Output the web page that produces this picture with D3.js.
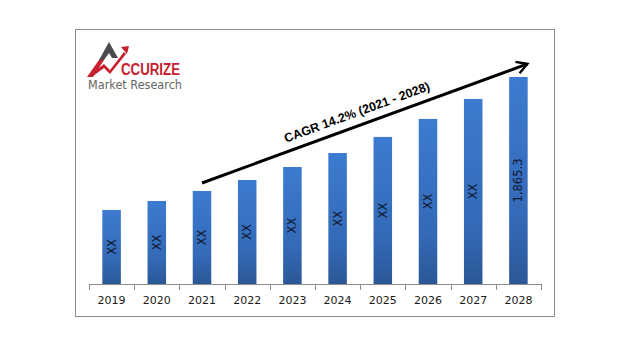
<!DOCTYPE html>
<html>
<head>
<meta charset="utf-8">
<script src="https://cdn.jsdelivr.net/npm/d3@7"></script>
<style>
  html, body { margin: 0; padding: 0; background: #fff; }
  svg { display: block; }
</style>
</head>
<body>
<script>
const years = ["2019","2020","2021","2022","2023","2024","2025","2026","2027","2028"];
const values = [667, 748, 838, 937, 1054, 1180, 1325, 1487, 1667, 1865.3];
const barLabels = ["XX","XX","XX","XX","XX","XX","XX","XX","XX","1,865.3"];
const cagrText = "CAGR 14.2% (2021 - 2028)";
const cagrFrom = "2021", cagrTo = "2028";

const W = 640, H = 357;
const svg = d3.select("body").append("svg").attr("width", W).attr("height", H);

const defs = svg.append("defs");
const grad = defs.append("linearGradient").attr("id", "barGrad")
  .attr("x1", 0).attr("y1", 0).attr("x2", 0).attr("y2", 1);
grad.append("stop").attr("offset", "0%").attr("stop-color", "#3c7bd0");
grad.append("stop").attr("offset", "70%").attr("stop-color", "#3469b6");
grad.append("stop").attr("offset", "100%").attr("stop-color", "#2b5796");

const mk = defs.append("marker").attr("id", "arrowHead")
  .attr("viewBox", "0 0 10 10").attr("refX", 8).attr("refY", 5)
  .attr("markerWidth", 5).attr("markerHeight", 5).attr("orient", "auto")
  .attr("markerUnits", "strokeWidth");
mk.append("path").attr("d", "M1,1 L8,5 L1,9").attr("fill", "none")
  .attr("stroke", "#000").attr("stroke-width", 1.6);

// frame
svg.append("rect").attr("x", 75.5).attr("y", 29.5).attr("width", 479).attr("height", 287)
  .attr("fill", "#fff").attr("stroke", "#8c8c8c").attr("stroke-width", 1);

const x = d3.scaleBand().domain(years).range([89, 541]).paddingInner(0.59).paddingOuter(0.295);
const y = d3.scaleLinear().domain([0, 2000]).range([284, 62]);

// bars
svg.append("g").selectAll("rect").data(years).join("rect")
  .attr("x", d => x(d)).attr("width", x.bandwidth())
  .attr("y", (d, i) => y(values[i])).attr("height", (d, i) => y(0) - y(values[i]))
  .attr("fill", "url(#barGrad)");

// axis
const band = d3.scaleBand().domain(years).range([89, 541]);
const axisG = svg.append("g");
axisG.append("line").attr("x1", 89).attr("x2", 541).attr("y1", 284.5).attr("y2", 284.5)
  .attr("stroke", "#8c8c8c");
const tickPos = years.map(d => band(d)).concat([band(years[years.length-1]) + band.bandwidth()]);
axisG.selectAll("line.tk").data(tickPos).join("line").attr("class", "tk")
  .attr("x1", d => Math.round(d) + 0.5).attr("x2", d => Math.round(d) + 0.5)
  .attr("y1", 284).attr("y2", 290).attr("stroke", "#8c8c8c");
axisG.selectAll("text").data(years).join("text")
  .attr("x", d => x(d) + x.bandwidth() / 2).attr("y", 304)
  .attr("text-anchor", "middle")
  .attr("font-family", "DejaVu Sans, Verdana, sans-serif").attr("font-size", 11)
  .attr("fill", "#1a1a1a").text(d => d);

// bar labels (rotated)
svg.append("g").selectAll("text").data(years).join("text")
  .attr("transform", (d, i) => {
    const cx = x(d) + x.bandwidth() / 2;
    const cy = (y(values[i]) + y(0)) / 2;
    return `translate(${cx},${cy}) rotate(-90)`;
  })
  .attr("text-anchor", "middle").attr("dy", "0.35em")
  .attr("font-family", "DejaVu Sans, Verdana, sans-serif").attr("font-size", 11.5)
  .attr("fill", "#101830").text((d, i) => barLabels[i]);

// CAGR arrow
const ax1 = x(cagrFrom) + x.bandwidth() / 2, ay1 = y(values[years.indexOf(cagrFrom)]) - 8;
const ax2 = x(cagrTo) + x.bandwidth() / 2 + 9, ay2 = y(values[years.indexOf(cagrTo)]) - 13;
svg.append("line").attr("x1", ax1).attr("y1", ay1).attr("x2", ax2).attr("y2", ay2)
  .attr("stroke", "#000").attr("stroke-width", 3).attr("marker-end", "url(#arrowHead)");
const ang = Math.atan2(ay2 - ay1, ax2 - ax1) * 180 / Math.PI;
const tx = ax1 + (ax2 - ax1) * 0.49, ty = ay1 + (ay2 - ay1) * 0.49;
svg.append("text")
  .attr("transform", `translate(${tx},${ty}) rotate(${ang}) translate(0,-9)`)
  .attr("text-anchor", "middle")
  .attr("font-family", "Liberation Sans, Arial, sans-serif").attr("font-weight", "bold")
  .attr("font-size", 12.5).attr("fill", "#000").text(cagrText);

// logo
const logo = svg.append("g");
logo.append("path").attr("d", "M109,42 L118,58 L112,58 L109,53 L104,60 L99,60 Z").attr("fill", "#4a4a4e");
logo.append("path").attr("d", "M99,60 L104,60 L93,77 L87,77 Z").attr("fill", "#c8202e");
logo.append("path").attr("d", "M92,73 L104,64 L110,70 L124,52 L126,54 L110,74 L104,68 L93,76 Z").attr("fill", "#c8202e");
logo.append("path").attr("d", "M121,47 L129,46 L127,54 Z").attr("fill", "#c8202e");
logo.append("text").attr("x", 121).attr("y", 75)
  .attr("font-family", "Liberation Sans Narrow, Liberation Sans, Arial, sans-serif")
  .attr("font-weight", "bold").attr("font-size", 16).attr("fill", "#c8202e")
  .attr("textLength", 59).attr("lengthAdjust", "spacingAndGlyphs").text("CCURIZE");
logo.append("text").attr("x", 88).attr("y", 89)
  .attr("font-family", "DejaVu Sans, Verdana, sans-serif")
  .attr("font-size", 11.5).attr("fill", "#666")
  .attr("textLength", 94).attr("lengthAdjust", "spacingAndGlyphs").text("Market Research");
</script>
</body>
</html>
